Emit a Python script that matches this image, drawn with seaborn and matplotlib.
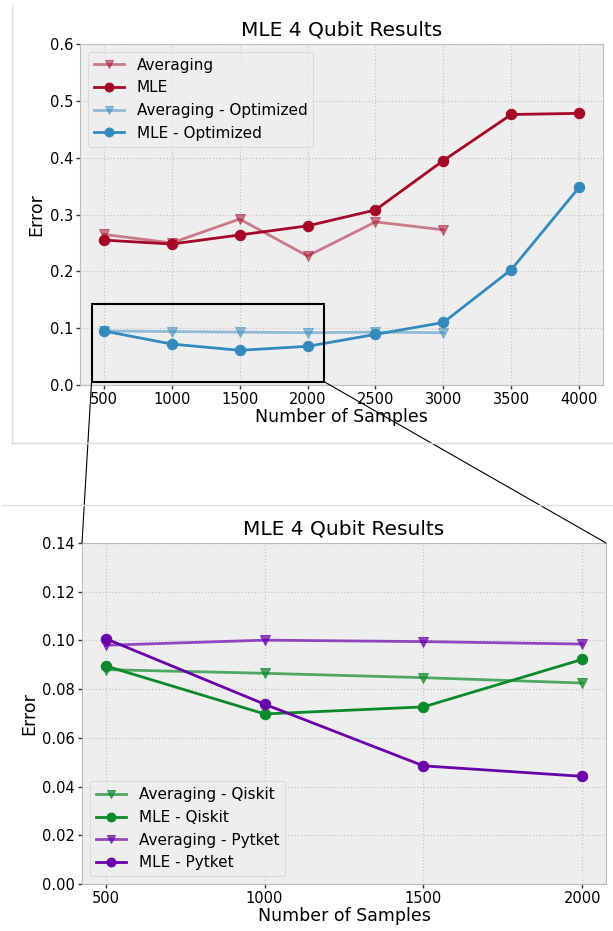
import matplotlib.pyplot as plt
import pandas as pd
import seaborn as sns
from matplotlib.lines import Line2D
from matplotlib.patches import ConnectionPatch, Rectangle

# Top panel data (all samples)
samples_all = [500, 1000, 1500, 2000, 2500, 3000, 3500, 4000]
samples_avg = [500, 1000, 1500, 2000, 2500, 3000]
avg_err = [0.265, 0.250, 0.292, 0.227, 0.287, 0.273]
mle_err = [0.255, 0.248, 0.264, 0.280, 0.308, 0.395, 0.476, 0.478]
avg_opt_err = [0.095, 0.094, 0.093, 0.092, 0.093, 0.092]
mle_opt_err = [0.095, 0.072, 0.061, 0.068, 0.089, 0.110, 0.203, 0.348]

# Bottom panel data (zoomed region)
samples_zoom = [500, 1000, 1500, 2000]
avg_qiskit = [0.0880, 0.0865, 0.0847, 0.0825]
mle_qiskit = [0.0895, 0.0698, 0.0727, 0.0922]
avg_pytket = [0.0980, 0.1001, 0.0995, 0.0985]
mle_pytket = [0.1007, 0.0738, 0.0485, 0.0442]

plt.style.use('bmh')
plt.rcParams['font.family'] = ['DejaVu Sans']
plt.rcParams['grid.color'] = '#c8c8c8'
plt.rcParams['grid.linestyle'] = ':'
plt.rcParams['grid.linewidth'] = 0.9

fig = plt.figure(figsize=(6.13, 9.31), dpi=100)
ax_top = fig.add_axes([0.1305, 0.5865, 0.8532, 0.3662])
ax_bot = fig.add_axes([0.1338, 0.0505, 0.8548, 0.3663])

red, blue = '#A60628', '#348ABD'
green, purple = '#0A8A2A', '#6A00AA'


def draw(ax, x, y, color, marker, label, alpha):
    df = pd.DataFrame({'x': x, 'y': y})
    sns.lineplot(data=df, x='x', y='y', ax=ax, color=color, marker=marker,
                 markersize=7.5, markeredgecolor=color, linewidth=2,
                 alpha=alpha, label=label)


# top chart
draw(ax_top, samples_avg, avg_err, red, 'v', 'Averaging', 0.5)
draw(ax_top, samples_all, mle_err, red, 'o', 'MLE', 1.0)
draw(ax_top, samples_avg, avg_opt_err, blue, 'v', 'Averaging - Optimized', 0.5)
draw(ax_top, samples_all, mle_opt_err, blue, 'o', 'MLE - Optimized', 1.0)
ax_top.set_ylim(0, 0.6)
ax_top.set_xticks(samples_all)
ax_top.set_title('MLE 4 Qubit Results', fontsize=14.5)
ax_top.legend(loc='upper left', fontsize=11, markerscale=0.85)

# bottom chart
draw(ax_bot, samples_zoom, avg_qiskit, green, 'v', 'Averaging - Qiskit', 0.7)
draw(ax_bot, samples_zoom, mle_qiskit, green, 'o', 'MLE - Qiskit', 1.0)
draw(ax_bot, samples_zoom, avg_pytket, purple, 'v', 'Averaging - Pytket', 0.7)
draw(ax_bot, samples_zoom, mle_pytket, purple, 'o', 'MLE - Pytket', 1.0)
ax_bot.set_ylim(0, 0.14)
ax_bot.set_xticks(samples_zoom)
ax_bot.set_title('MLE 4 Qubit Results', fontsize=14.5)
ax_bot.legend(loc='lower left', fontsize=11, markerscale=0.85)

for ax in (ax_top, ax_bot):
    ax.set_xlabel('Number of Samples', fontsize=12.5, labelpad=1)
    ax.set_ylabel('Error', fontsize=12.5, labelpad=3)
    ax.tick_params(labelsize=10.5, direction='out', length=3, width=1,
                   color='#333333', pad=2)

# zoom rectangle and connector lines
x0, x1, y0, y1 = 410, 2120, 0.006, 0.143
ax_top.add_patch(Rectangle((x0, y0), x1 - x0, y1 - y0, fill=False,
                           edgecolor='black', linewidth=1.5, zorder=5))
for xa, xb in ((x0, 0), (x1, 1)):
    con = ConnectionPatch(xyA=(xa, y0), coordsA=ax_top.transData,
                          xyB=(xb, 1), coordsB=ax_bot.transAxes,
                          color='black', linewidth=0.8)
    fig.add_artist(con)

# faint panel borders
W, H = 613, 931
border = '#dddddd'
fig.add_artist(Line2D([12 / W, 12 / W], [1 - 5 / H, 1 - 443 / H],
                      transform=fig.transFigure, color=border, linewidth=1))
fig.add_artist(Line2D([12 / W, 1], [1 - 443 / H, 1 - 443 / H],
                      transform=fig.transFigure, color=border, linewidth=1))
fig.add_artist(Line2D([2 / W, 1], [1 - 505 / H, 1 - 505 / H],
                      transform=fig.transFigure, color=border, linewidth=1))

fig.savefig('out.png', dpi=100)
